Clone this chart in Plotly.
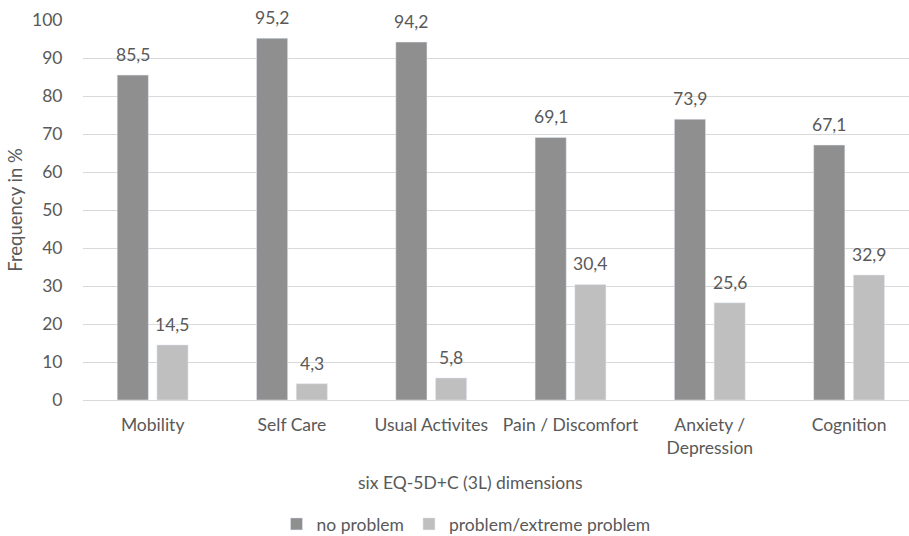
import plotly.graph_objects as go

categories = ["Mobility", "Self Care", "Usual Activites", "Pain / Discomfort",
              "Anxiety /<br>Depression", "Cognition"]
no_problem = [85.5, 95.2, 94.2, 69.1, 73.9, 67.1]
problem = [14.5, 4.3, 5.8, 30.4, 25.6, 32.9]
y_ticks = [0, 10, 20, 30, 40, 50, 60, 70, 80, 90, 100]

font_family = "Lato, 'Open Sans', sans-serif"
text_color = "#595959"
fs = 17.5

fig = go.Figure()
fig.add_trace(go.Bar(x=categories, y=no_problem, name="no problem",
                     marker_color="#8f8f8f"))
fig.add_trace(go.Bar(x=categories, y=problem, name="problem/extreme problem",
                     marker_color="#bfbfbf"))

# value labels (decimal comma), placed above each bar
annotations = []
for vals, shift in ((no_problem, -19.75), (problem, 19.75)):
    for c, v in zip(categories, vals):
        annotations.append(dict(
            x=c, y=v, xref="x", yref="y", text=f"{v:.1f}".replace(".", ","),
            showarrow=False, xanchor="center", yanchor="bottom",
            xshift=shift, yshift=8,
            font=dict(size=fs, color=text_color, family=font_family)))

annotations.append(dict(text="six EQ-5D+C (3L) dimensions", xref="paper", yref="paper",
                        x=(470 - 83) / 826, y=-83 / 380, xanchor="center", yanchor="middle",
                        showarrow=False, font=dict(size=fs, color=text_color)))

fig.update_layout(
    width=909, height=536,
    margin=dict(l=83, r=0, t=20, b=136, autoexpand=False),
    paper_bgcolor="white", plot_bgcolor="white",
    barmode="group", bargap=0.43, bargroupgap=0.215,
    font=dict(family=font_family, size=fs, color=text_color),
    showlegend=True,
    legend=dict(orientation="h", x=(466 - 83) / 826, xanchor="center",
                y=-124 / 380, yanchor="middle",
                font=dict(size=fs, color=text_color), traceorder="normal"),
    annotations=annotations,
)
fig.update_xaxes(
    range=[-0.5, 5.43], showgrid=False, showline=True, linecolor="#d9d9d9",
    linewidth=1, tickfont=dict(size=fs, color=text_color), ticks="",
    ticklabelstandoff=9,
    fixedrange=True, automargin=False,
)
fig.update_yaxes(
    range=[0, 100], tickvals=y_ticks, showgrid=True, gridcolor="#d9d9d9",
    gridwidth=1, zeroline=False, showline=False, automargin=False,
    tickfont=dict(size=fs, color=text_color),
    ticks="outside", ticklen=16, tickcolor="rgba(0,0,0,0)",
    title=dict(text="Frequency in %", font=dict(size=18.5, color=text_color), standoff=4),
)

fig.write_html("out.html", config={"displayModeBar": False},
               post_script="document.body.style.margin='0';document.body.style.overflow='hidden';")
